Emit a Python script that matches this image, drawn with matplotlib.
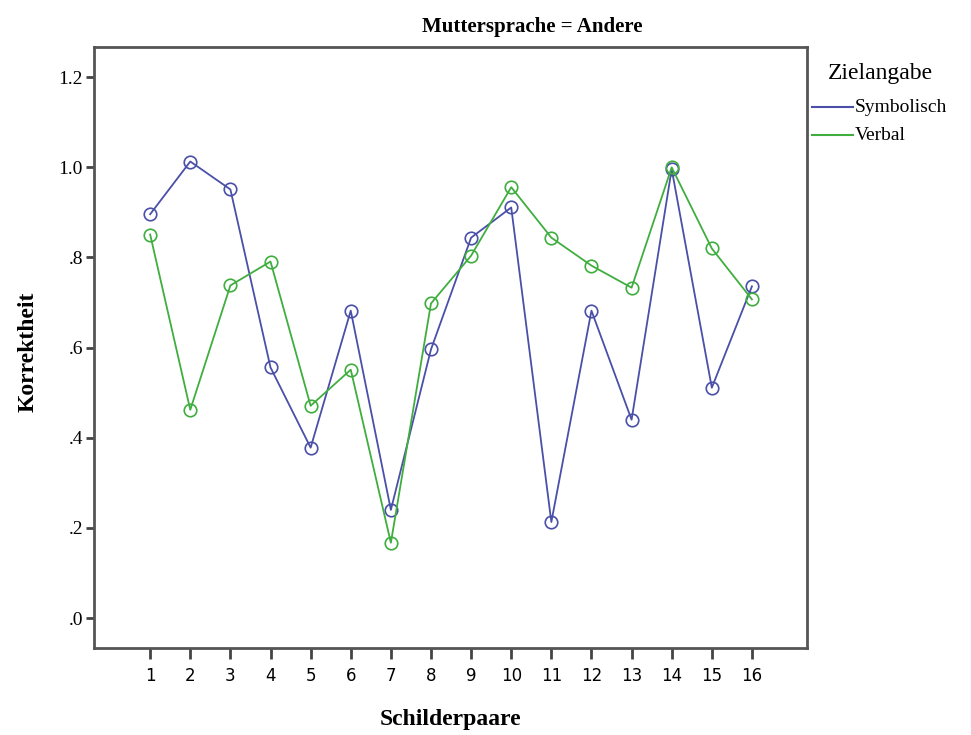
import matplotlib.pyplot as plt
from matplotlib.lines import Line2D

# Schilderpaare 1..16
pairs = list(range(1, 17))
symbolisch = [0.896, 1.013, 0.951, 0.556, 0.378, 0.682, 0.240, 0.596,
              0.844, 0.911, 0.213, 0.682, 0.440, 0.996, 0.511, 0.736]
verbal = [0.851, 0.462, 0.738, 0.791, 0.471, 0.551, 0.167, 0.698,
          0.804, 0.956, 0.844, 0.782, 0.733, 1.000, 0.820, 0.707]
y_ticks = [0.0, 0.2, 0.4, 0.6, 0.8, 1.0, 1.2]
y_tick_labels = [".0", ".2", ".4", ".6", ".8", "1.0", "1.2"]
series_names = ["Symbolisch", "Verbal"]

blue = "#4a4fa8"
green = "#3fae3f"
serif = "Liberation Serif"

fig = plt.figure(figsize=(9.71, 7.35), dpi=100)
ax = fig.add_axes([0.0968, 0.1184, 0.7342, 0.8176])

#draw both series with open circle markers
for vals, col in [(symbolisch, blue), (verbal, green)]:
    ax.plot(pairs, vals, color=col, linewidth=1.3, marker="o", markersize=9,
            markerfacecolor="none", markeredgecolor=col, markeredgewidth=1.2)

ax.set_xlim(-0.4, 17.37)
ax.set_ylim(-0.0665, 1.267)
ax.set_xticks(pairs)
ax.set_xticklabels([str(p) for p in pairs], family="DejaVu Sans", fontsize=12)
ax.set_yticks(y_ticks)
ax.set_yticklabels(y_tick_labels, family=serif, fontsize=14)
ax.tick_params(axis="x", direction="out", length=8, width=2, color="#444444", pad=6)
ax.tick_params(axis="y", direction="out", length=6, width=2, color="#444444", pad=2)

for s in ax.spines.values():
    s.set_color("#555555")
    s.set_linewidth(2)

ax.set_xlabel("Schilderpaare", family=serif, fontsize=17, fontweight="bold", labelpad=17)
#y label placed on the figure so it sits where the reference has it
fig.text(28 / 971, 1 - 352 / 735, "Korrektheit", family=serif, fontsize=17,
         fontweight="bold", rotation=90, ha="center", va="center")
fig.text(532 / 971, 1 - 27 / 735, "Muttersprache = Andere", family=serif,
         fontsize=15, fontweight="bold", ha="center", va="center")

#legend drawn by hand to mimic the SPSS layout
fig.text(880 / 971, 1 - 73 / 735, "Zielangabe", family=serif, fontsize=17,
         ha="center", va="center")
for i, (name, col) in enumerate(zip(series_names, [blue, green])):
    y = 1 - (107 + i * 28) / 735
    fig.add_artist(Line2D([812 / 971, 853 / 971], [y, y], color=col, linewidth=1.5))
    fig.text(855 / 971, y, name, family=serif, fontsize=14, ha="left", va="center")

fig.savefig("out.png", dpi=100)
